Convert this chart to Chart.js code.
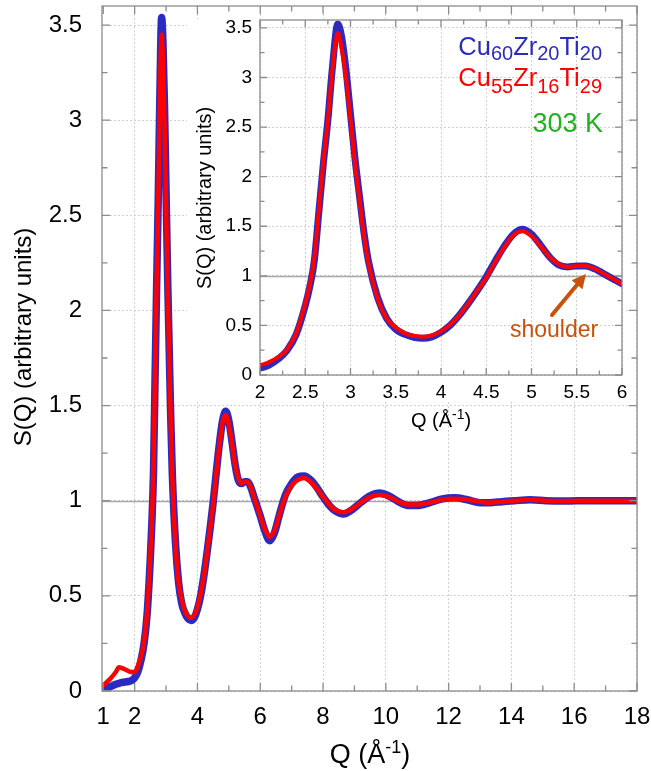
<!DOCTYPE html>
<html>
<head>
<meta charset="utf-8">
<script src="https://cdn.jsdelivr.net/npm/chart.js@4.4.0/dist/chart.umd.min.js"></script>
<style>
  html, body { margin: 0; padding: 0; background: #fff; }
  #wrap { position: relative; width: 651px; height: 771px; }
  #main { position: absolute; left: 0; top: 0; }
  #inset { position: absolute; left: 185px; top: 12px; }
</style>
</head>
<body>
<div id="wrap">
  <canvas id="main" width="651" height="771"></canvas>
  <canvas id="inset" width="445" height="425"></canvas>
</div>
<script>
// Q in 1/Angstrom, shared by both alloys
const q = [1.0, 1.2, 1.4, 1.5, 1.6, 1.8, 1.9, 2.0, 2.1, 2.2,
  2.3, 2.4, 2.5, 2.55, 2.6, 2.65, 2.7, 2.75, 2.8, 2.86,
  2.9, 2.95, 3.0, 3.05, 3.1, 3.15, 3.2, 3.3, 3.4, 3.5,
  3.6, 3.7, 3.8, 3.9, 4.0, 4.1, 4.2, 4.3, 4.4, 4.5,
  4.6, 4.7, 4.8, 4.9, 5.0, 5.1, 5.2, 5.3, 5.4, 5.5,
  5.6, 5.7, 5.8, 5.9, 6.0, 6.15, 6.3, 6.45, 6.6, 6.8,
  7.0, 7.2, 7.4, 7.6, 7.8, 8.0, 8.2, 8.4, 8.65, 8.9,
  9.2, 9.5, 9.8, 10.1, 10.4, 10.7, 11.0, 11.4, 11.8, 12.2,
  12.6, 13.0, 13.3, 13.7, 14.1, 14.6, 15.1, 15.6, 16.1, 16.6,
  17.1, 17.6, 18.0];

// Cu60Zr20Ti20 (blue)
const sCu60 = [0.005, 0.02, 0.035, 0.04, 0.045, 0.05, 0.055, 0.07, 0.10, 0.16,
  0.25, 0.41, 0.70, 0.89, 1.15, 1.64, 2.13, 2.57, 3.10, 3.54,
  3.42, 3.08, 2.63, 2.18, 1.80, 1.43, 1.14, 0.78, 0.57, 0.46,
  0.41, 0.38, 0.37, 0.385, 0.43, 0.50, 0.60, 0.72, 0.85, 0.99,
  1.15, 1.30, 1.42, 1.47, 1.42, 1.31, 1.19, 1.11, 1.09, 1.10,
  1.10, 1.07, 1.02, 0.97, 0.92, 0.84, 0.79, 0.83, 0.92, 1.03,
  1.09, 1.125, 1.13, 1.11, 1.07, 1.02, 0.975, 0.945, 0.93, 0.95,
  0.99, 1.025, 1.04, 1.025, 0.995, 0.975, 0.975, 0.99, 1.01, 1.015,
  1.005, 0.99, 0.99, 0.995, 1.0, 1.005, 1.0, 0.998, 1.0, 1.0,
  1.0, 1.0, 1.0];

// Cu55Zr16Ti29 (red)
const sCu55 = [0.03, 0.06, 0.10, 0.125, 0.12, 0.105, 0.10, 0.10, 0.13, 0.18,
  0.26, 0.42, 0.72, 0.91, 1.18, 1.66, 2.15, 2.57, 3.08, 3.45,
  3.30, 3.00, 2.57, 2.13, 1.76, 1.40, 1.12, 0.77, 0.57, 0.48,
  0.42, 0.395, 0.385, 0.40, 0.44, 0.51, 0.60, 0.72, 0.85, 0.98,
  1.14, 1.29, 1.41, 1.45, 1.40, 1.30, 1.19, 1.12, 1.09, 1.10,
  1.10, 1.07, 1.02, 0.97, 0.92, 0.85, 0.81, 0.84, 0.92, 1.02,
  1.08, 1.11, 1.12, 1.10, 1.065, 1.02, 0.98, 0.95, 0.94, 0.955,
  0.99, 1.02, 1.03, 1.02, 0.995, 0.98, 0.98, 0.99, 1.005, 1.01,
  1.005, 0.995, 0.99, 0.995, 1.0, 1.005, 1.0, 0.998, 1.0, 1.0,
  1.0, 1.0, 1.0];

const mainXTicks = [1, 2, 4, 6, 8, 10, 12, 14, 16, 18];
const mainXMinor = [3, 5, 7, 9, 11, 13, 15, 17];
const yTicks = [0, 0.5, 1, 1.5, 2, 2.5, 3, 3.5];
const yMinor = [0.25, 0.75, 1.25, 1.75, 2.25, 2.75, 3.25];
const insetXTicks = [2, 2.5, 3, 3.5, 4, 4.5, 5, 5.5, 6];
const insetXMinor = [2.25, 2.75, 3.25, 3.75, 4.25, 4.75, 5.25, 5.75];

const FONT = "'Liberation Sans', Arial, sans-serif";
const BLUE = '#2b2bc2';
const RED = '#ff0000';

function pts(s) {
  return q.map((x, i) => ({ x: x, y: s[i] }));
}

// draw text made of parts, some of them sub/superscript
function richText(ctx, parts, x, y, size, small, shift, align) {
  let w = 0;
  parts.forEach(p => {
    ctx.font = (p.sub || p.sup ? small : size) + 'px ' + FONT;
    p.w = ctx.measureText(p.t).width;
    w += p.w;
  });
  let cx = align === 'right' ? x - w : align === 'center' ? x - w / 2 : x;
  ctx.textAlign = 'left';
  ctx.textBaseline = 'alphabetic';
  parts.forEach(p => {
    ctx.font = (p.sub || p.sup ? small : size) + 'px ' + FONT;
    let dy = p.sub ? shift : p.sup ? -shift : 0;
    ctx.fillText(p.t, cx, y + dy);
    cx += p.w;
  });
}

// frame, inward ticks and the S(Q)=1 line
const frame = {
  id: 'frame',
  beforeDatasetsDraw(chart, args, o) {
    const { ctx, chartArea: a } = chart;
    const py = Math.round(chart.scales.y.getPixelForValue(1)) + 0.5;
    ctx.save();
    ctx.strokeStyle = '#a9a9a9';
    ctx.lineWidth = 1.5;
    ctx.beginPath();
    ctx.moveTo(a.left, py);
    ctx.lineTo(a.right, py);
    ctx.stroke();
    ctx.restore();
  },
  afterDraw(chart, args, o) {
    const { ctx, chartArea: a } = chart;
    const xs = chart.scales.x, ys = chart.scales.y;
    ctx.save();
    ctx.strokeStyle = '#8c8c8c';
    ctx.lineWidth = 1.3;
    ctx.strokeRect(a.left, a.top, a.right - a.left, a.bottom - a.top);
    ctx.beginPath();
    const tick = (vals, len, horiz) => {
      vals.forEach(v => {
        if (horiz) {
          const px = xs.getPixelForValue(v);
          ctx.moveTo(px, a.bottom); ctx.lineTo(px, a.bottom - len);
          ctx.moveTo(px, a.top); ctx.lineTo(px, a.top + len);
        } else {
          const py = ys.getPixelForValue(v);
          ctx.moveTo(a.left, py); ctx.lineTo(a.left + len, py);
          ctx.moveTo(a.right, py); ctx.lineTo(a.right - len, py);
        }
      });
    };
    tick(o.xMajor, o.major, true);
    tick(o.xMinor, o.minor, true);
    tick(o.yMajor, o.major, false);
    tick(o.yMinor, o.minor, false);
    ctx.stroke();
    ctx.restore();
  }
};

const dotted = {
  color: (c) => (c.tick && c.tick.value === 1 && c.scale.axis === 'x' && c.scale.min < 1) ? 'rgba(0,0,0,0)' : '#cfcfcf',
  lineWidth: 1,
  drawTicks: false
};

function fixBox(size, horiz) {
  return (s) => {
    if (horiz) s.height = size; else s.width = size;
    s.paddingLeft = 0; s.paddingRight = 0; s.paddingTop = 0; s.paddingBottom = 0;
  };
}

const plainLabel = (v) => String(v);

const mainLabels = {
  id: 'mainLabels',
  afterDraw(chart) {
    const ctx = chart.ctx;
    ctx.save();
    ctx.fillStyle = '#000';
    richText(ctx, [{ t: 'Q (Å' }, { t: '-1', sup: true }, { t: ')' }], 370, 763, 27, 18, 10, 'center');
    ctx.translate(24, 337);
    ctx.rotate(-Math.PI / 2);
    ctx.font = '24px ' + FONT;
    ctx.textAlign = 'center';
    ctx.textBaseline = 'middle';
    ctx.fillText('S(Q) (arbitrary units)', 0, 0);
    ctx.restore();
  }
};

new Chart(document.getElementById('main'), {
  type: 'line',
  data: {
    datasets: [
      { data: pts(sCu55), borderColor: RED, borderWidth: 4.5 },
      { data: pts(sCu60), borderColor: BLUE, borderWidth: 7.5 }
    ]
  },
  options: {
    responsive: false,
    animation: false,
    devicePixelRatio: 1,
    layout: { padding: { top: 6, right: 14, left: 0, bottom: 0 } },
    elements: {
      point: { radius: 0 },
      line: { cubicInterpolationMode: 'monotone', borderCapStyle: 'round', borderJoinStyle: 'round' }
    },
    scales: {
      x: {
        type: 'linear', min: 0.96, max: 18,
        afterBuildTicks: (s) => { s.ticks = mainXTicks.map(v => ({ value: v })); },
        afterFit: fixBox(80, true),
        grid: dotted,
        border: { display: false, dash: [2, 2] },
        ticks: { font: { family: FONT, size: 24 }, color: '#000', padding: 12, maxRotation: 0, autoSkip: false, callback: plainLabel }
      },
      y: {
        type: 'linear', min: 0, max: 3.6,
        afterBuildTicks: (s) => { s.ticks = yTicks.map(v => ({ value: v })); },
        afterFit: fixBox(102, false),
        grid: dotted,
        border: { display: false, dash: [2, 2] },
        ticks: { font: { family: FONT, size: 24 }, color: '#000', padding: 20, callback: plainLabel }
      }
    },
    plugins: {
      legend: { display: false },
      tooltip: { enabled: false },
      frame: { xMajor: mainXTicks, xMinor: mainXMinor, yMajor: yTicks, yMinor: yMinor, major: 8, minor: 5.5 }
    }
  },
  plugins: [frame, mainLabels]
});

const insetDecor = {
  id: 'insetDecor',
  beforeDraw(chart) {
    const ctx = chart.ctx;
    ctx.save();
    ctx.fillStyle = '#fff';
    ctx.fillRect(2, 7, 438, 383);
    ctx.restore();
  },
  afterDraw(chart) {
    const ctx = chart.ctx;
    ctx.save();
    ctx.fillStyle = '#000';
    richText(ctx, [{ t: 'Q (Å' }, { t: '-1', sup: true }, { t: ')' }], 256, 415, 20, 14, 8, 'center');
    ctx.save();
    ctx.translate(20, 186);
    ctx.rotate(-Math.PI / 2);
    ctx.font = '20px ' + FONT;
    ctx.textAlign = 'center';
    ctx.textBaseline = 'middle';
    ctx.fillText('S(Q) (arbitrary units)', 0, 0);
    ctx.restore();

    ctx.fillStyle = BLUE;
    richText(ctx, [{ t: 'Cu' }, { t: '60', sub: true }, { t: 'Zr' }, { t: '20', sub: true }, { t: 'Ti' }, { t: '20', sub: true }], 417, 43, 25.5, 20, 5, 'right');
    ctx.fillStyle = RED;
    richText(ctx, [{ t: 'Cu' }, { t: '55', sub: true }, { t: 'Zr' }, { t: '16', sub: true }, { t: 'Ti' }, { t: '29', sub: true }], 417, 74, 25.5, 20, 7, 'right');
    ctx.fillStyle = '#1fb41f';
    ctx.font = '27px ' + FONT;
    ctx.textAlign = 'right';
    ctx.fillText('303 K', 418, 120);

    const brown = '#c8520c';
    ctx.fillStyle = brown;
    ctx.font = '23px ' + FONT;
    ctx.textAlign = 'left';
    ctx.fillText('shoulder', 325, 325);

    // arrow pointing at the shoulder
    const x0 = 367, y0 = 303, x1 = 401, y1 = 262;
    const ang = Math.atan2(y1 - y0, x1 - x0);
    const hl = 14, hw = 7;
    const bx = x1 - hl * Math.cos(ang), by = y1 - hl * Math.sin(ang);
    ctx.strokeStyle = brown;
    ctx.lineWidth = 4;
    ctx.lineCap = 'round';
    ctx.beginPath();
    ctx.moveTo(x0, y0);
    ctx.lineTo(bx, by);
    ctx.stroke();
    ctx.beginPath();
    ctx.moveTo(x1, y1);
    ctx.lineTo(bx + hw * Math.sin(ang), by - hw * Math.cos(ang));
    ctx.lineTo(bx - hw * Math.sin(ang), by + hw * Math.cos(ang));
    ctx.closePath();
    ctx.fill();
    ctx.restore();
  }
};

new Chart(document.getElementById('inset'), {
  type: 'line',
  data: {
    datasets: [
      { data: pts(sCu55), borderColor: RED, borderWidth: 4, clip: 0 },
      { data: pts(sCu60), borderColor: BLUE, borderWidth: 7, clip: 0 }
    ]
  },
  options: {
    responsive: false,
    animation: false,
    devicePixelRatio: 1,
    layout: { padding: { top: 8, right: 8, left: 0, bottom: 0 } },
    elements: {
      point: { radius: 0 },
      line: { cubicInterpolationMode: 'monotone', borderCapStyle: 'round', borderJoinStyle: 'round' }
    },
    scales: {
      x: {
        type: 'linear', min: 2, max: 6,
        afterBuildTicks: (s) => { s.ticks = insetXTicks.map(v => ({ value: v })); },
        afterFit: fixBox(62, true),
        grid: dotted,
        border: { display: false, dash: [2, 2] },
        ticks: { font: { family: FONT, size: 19 }, color: '#000', padding: 6, maxRotation: 0, autoSkip: false, callback: plainLabel }
      },
      y: {
        type: 'linear', min: 0, max: 3.58,
        afterBuildTicks: (s) => { s.ticks = yTicks.map(v => ({ value: v })); },
        afterFit: fixBox(75, false),
        grid: dotted,
        border: { display: false, dash: [2, 2] },
        ticks: { font: { family: FONT, size: 19 }, color: '#000', padding: 8, callback: plainLabel }
      }
    },
    plugins: {
      legend: { display: false },
      tooltip: { enabled: false },
      frame: { xMajor: insetXTicks, xMinor: insetXMinor, yMajor: yTicks, yMinor: yMinor, major: 7, minor: 4.5 }
    }
  },
  plugins: [insetDecor, frame]
});
</script>
</body>
</html>
